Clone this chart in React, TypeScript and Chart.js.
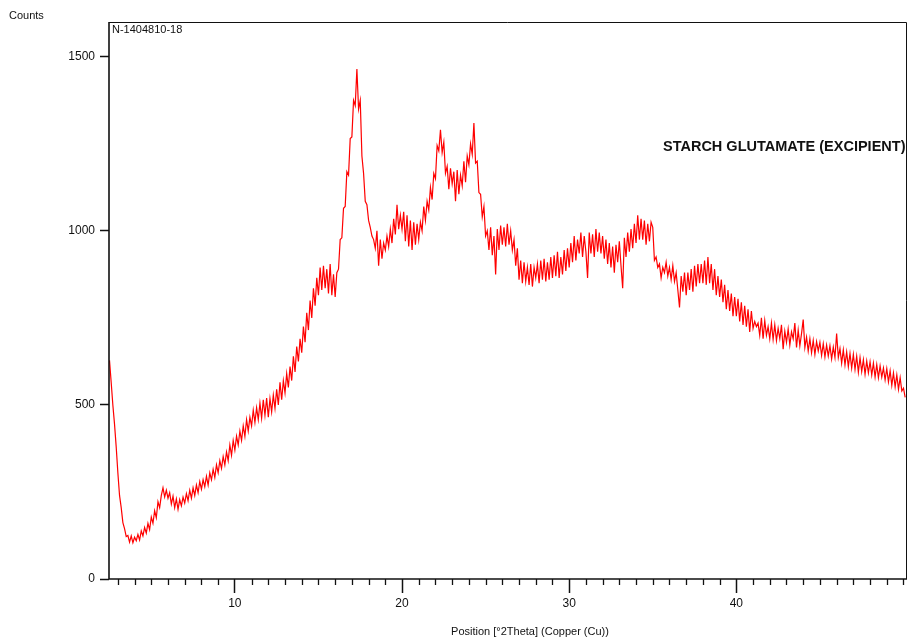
import { useEffect, useRef } from "react";
import { Chart, registerables } from "chart.js";

Chart.register(...registerables);

// Scan grid (°2Theta): first angle and step size
const scanStart = 2.5;
const scanStep = 0.1;

// Counts, one row per degree
const counts: number[] = [
  // 2.5–2.9
  628, 565, 500, 445, 380,
  // 3
  305, 240, 205, 162, 145, 122, 125, 106, 124, 104,
  // 4
  120, 110, 128, 112, 138, 124, 148, 132, 160, 142,
  // 5
  178, 160, 196, 176, 222, 205, 240, 262, 236, 255,
  // 6
  232, 248, 215, 238, 205, 230, 200, 228, 210, 235,
  // 7
  218, 245, 225, 255, 232, 262, 240, 270, 248, 280,
  // 8
  258, 285, 265, 295, 270, 305, 285, 315, 292, 328,
  // 9
  305, 340, 318, 352, 328, 365, 340, 385, 355, 398,
  // 10
  370, 410, 385, 425, 398, 440, 410, 458, 425, 465,
  // 11
  440, 485, 450, 492, 458, 505, 462, 515, 470, 520,
  // 12
  465, 518, 480, 528, 490, 545, 500, 565, 515, 570,
  // 13
  535, 590, 550, 610, 570, 640, 595, 668, 625, 690,
  // 14
  650, 725, 680, 765, 715, 800, 750, 835, 785, 865,
  // 15
  815, 895, 830, 900, 835, 890, 820, 905, 815, 875,
  // 16
  810, 880, 890, 975, 980, 1065, 1070, 1170, 1160, 1265,
  // 17
  1270, 1375, 1360, 1465, 1350, 1375, 1215, 1165, 1085, 1075,
  // 18
  1030, 1010, 985, 975, 950, 1000, 900, 975, 920, 965,
  // 19
  945, 985, 955, 1005, 965, 1035, 990, 1075, 1005, 1045,
  // 20
  1005, 1055, 970, 1045, 955, 1030, 945, 1025, 960, 1020,
  // 21
  975, 1025, 1000, 1070, 1030, 1085, 1060, 1125, 1090, 1165,
  // 22
  1150, 1245, 1230, 1290, 1225, 1255, 1165, 1185, 1120, 1180,
  // 23
  1135, 1170, 1085, 1175, 1105, 1160, 1130, 1200, 1140, 1215,
  // 24
  1190, 1250, 1220, 1310, 1195, 1200, 1110, 1105, 1040, 1070,
  // 25
  985, 1000, 945, 1010, 930, 985, 875, 1005, 945, 1015,
  // 26
  960, 1010, 955, 1020, 960, 1000, 945, 975, 900, 950,
  // 27
  860, 915, 850, 910, 855, 895, 845, 905, 840, 895,
  // 28
  865, 905, 850, 915, 860, 920, 855, 910, 860, 925,
  // 29
  865, 930, 870, 940, 865, 925, 875, 945, 885, 950,
  // 30
  895, 965, 910, 985, 915, 975, 935, 995, 925, 985,
  // 31
  940, 865, 995, 935, 990, 925, 1005, 940, 995, 935,
  // 32
  985, 920, 975, 905, 965, 895, 955, 880, 960, 910,
  // 33
  970, 900, 835, 980, 925, 995, 940, 1005, 950, 1020,
  // 34
  965, 1045, 975, 1035, 975, 1030, 960, 1020, 970, 1025,
  // 35
  1010, 915, 925, 895, 905, 865, 895, 880, 910, 870,
  // 36
  895, 860, 900, 855, 880, 830, 780, 870, 825, 880,
  // 37
  815, 880, 830, 890, 825, 900, 840, 905, 850, 905,
  // 38
  850, 915, 845, 925, 850, 905, 830, 890, 815, 870,
  // 39
  810, 860, 795, 845, 775, 830, 770, 820, 755, 810,
  // 40
  755, 805, 740, 795, 730, 785, 725, 775, 710, 770,
  // 41
  720, 740, 725, 735, 700, 750, 690, 742, 700, 725,
  // 42
  690, 735, 688, 730, 685, 720, 690, 730, 660, 712,
  // 43
  680, 718, 672, 710, 690, 735, 665, 715, 670, 705,
  // 44
  745, 665, 695, 655, 690, 650, 685, 645, 682, 655,
  // 45
  680, 642, 676, 638, 672, 640, 670, 632, 666, 636,
  // 46
  705, 636, 662, 620, 658, 615, 652, 610, 648, 606,
  // 47
  645, 602, 640, 594, 636, 596, 630, 588, 626, 592,
  // 48
  624, 586, 620, 580, 616, 578, 612, 580, 606, 572,
  // 49
  604, 566, 598, 556, 592, 552, 586, 545, 578, 540,
  // 50
  548, 522,
];

const xMajorTicks = [10, 20, 30, 40];
const xMinorTicks = [
  3, 4, 5, 6, 7, 8, 9, 11, 12, 13, 14, 15, 16, 17, 18, 19, 21, 22, 23, 24, 25,
  26, 27, 28, 29, 31, 32, 33, 34, 35, 36, 37, 38, 39, 41, 42, 43, 44, 45, 46,
  47, 48, 49, 50,
];
const yTicks = [0, 500, 1000, 1500];

const xMin = 2.47;
const xMax = 50.15;
const yMin = 0;
const yMax = 1600;

const yTitle = "Counts";
const xTitle = "Position [°2Theta] (Copper (Cu))";
const sampleName = "N-1404810-18";
const chartTitle = "STARCH GLUTAMATE (EXCIPIENT)";

const FONT = '"Liberation Sans", Arial, Helvetica, sans-serif';
const INK = "#111";

const decorPlugin = {
  id: "decor",
  afterDraw(chart: any) {
    const { ctx, chartArea, scales } = chart;
    const { left, right, top, bottom } = chartArea;
    const x = scales.x;
    ctx.save();
    // frame
    ctx.strokeStyle = "#111";
    ctx.lineWidth = 1;
    ctx.beginPath();
    ctx.moveTo(left, top + 0.5);
    ctx.lineTo(right + 0.5, top + 0.5);
    ctx.lineTo(right + 0.5, bottom);
    ctx.stroke();
    ctx.lineWidth = 1.6;
    ctx.beginPath();
    ctx.moveTo(left, top);
    ctx.lineTo(left, bottom);
    ctx.lineTo(right + 1, bottom);
    ctx.stroke();
    // minor x ticks
    ctx.lineWidth = 1.3;
    ctx.beginPath();
    for (const v of xMinorTicks) {
      const px = Math.round(x.getPixelForValue(v)) + 0.5;
      ctx.moveTo(px, bottom);
      ctx.lineTo(px, bottom + 6);
    }
    ctx.stroke();
    // texts
    ctx.fillStyle = INK;
    ctx.textBaseline = "alphabetic";
    ctx.textAlign = "left";
    ctx.font = `11px ${FONT}`;
    ctx.fillText(yTitle, 9, 19);
    ctx.fillText(sampleName, 112, 33);
    ctx.font = `bold 14.5px ${FONT}`;
    ctx.fillText(chartTitle, 663, 150.5);
    ctx.font = `11px ${FONT}`;
    ctx.textAlign = "center";
    ctx.textBaseline = "middle";
    ctx.fillText(xTitle, 530, 632);
    ctx.restore();
  },
};

export default function App() {
  const ref = useRef<HTMLCanvasElement>(null);

  useEffect(() => {
    if (!ref.current) return;
    const points = counts.map((c, i) => ({ x: scanStart + i * scanStep, y: c }));
    const chart = new Chart(ref.current, {
      type: "line",
      data: {
        datasets: [
          {
            data: points,
            borderColor: "#ff0000",
            borderWidth: 1.2,
            pointRadius: 0,
            tension: 0,
            fill: false,
          },
        ],
      },
      options: {
        animation: false,
        responsive: false,
        devicePixelRatio: 1,
        layout: { padding: { left: 0, right: 3, top: 22, bottom: 0 } },
        plugins: {
          legend: { display: false },
          tooltip: { enabled: false },
          title: { display: false },
        },
        scales: {
          x: {
            type: "linear",
            min: xMin,
            max: xMax,
            afterBuildTicks: (s: any) => {
              s.ticks = xMajorTicks.map((v) => ({ value: v }));
            },
            afterFit: (s: any) => {
              s.height = 64;
            },
            grid: {
              display: true,
              drawOnChartArea: false,
              drawTicks: true,
              tickLength: 14,
              tickWidth: 1.5,
              tickColor: "#111",
            },
            border: { display: false },
            ticks: {
              padding: 3,
              maxRotation: 0,
              autoSkip: false,
              color: INK,
              font: { family: FONT, size: 12 },
              callback: (v: any) => String(v),
            },
          },
          y: {
            type: "linear",
            min: yMin,
            max: yMax,
            afterBuildTicks: (s: any) => {
              s.ticks = yTicks.map((v) => ({ value: v }));
            },
            afterFit: (s: any) => {
              s.width = 109;
            },
            grid: {
              display: true,
              drawOnChartArea: false,
              drawTicks: true,
              tickLength: 9,
              tickWidth: 1.5,
              tickColor: "#111",
            },
            border: { display: false },
            ticks: {
              padding: 5,
              autoSkip: false,
              color: INK,
              font: { family: FONT, size: 12 },
              callback: (v: any) => String(v),
            },
          },
        },
      },
      plugins: [decorPlugin],
    });
    return () => chart.destroy();
  }, []);

  return (
    <div style={{ position: "absolute", left: 0, top: 0, width: 909, height: 643, background: "#fff" }}>
      <canvas ref={ref} width={909} height={643} style={{ display: "block" }} />
    </div>
  );
}
